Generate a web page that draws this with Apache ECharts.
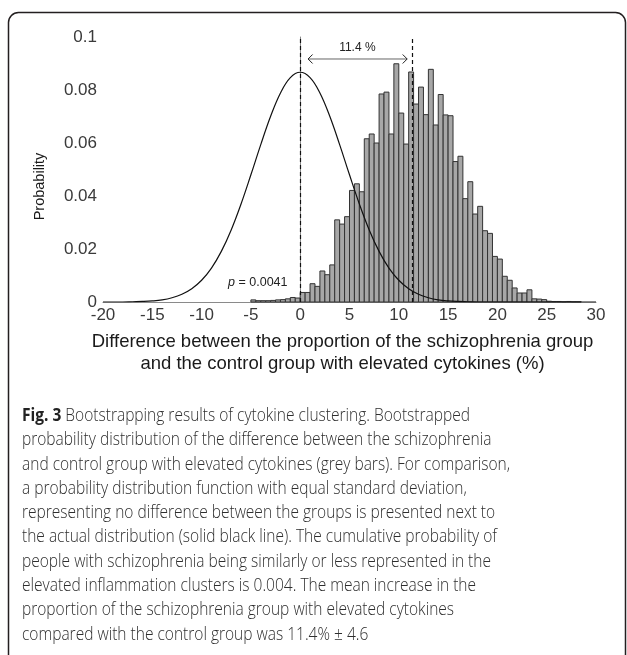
<!DOCTYPE html>
<html><head><meta charset="utf-8">
<script src="https://cdn.jsdelivr.net/npm/echarts@6/dist/echarts.min.js"></script>
<style>html,body{margin:0;padding:0;background:#fff}#c{width:627px;height:655px}</style>
</head><body><div id="c"></div>
<script>
// Histogram bins (lower edges) and bootstrapped probabilities
const binLower = [-5,-4.5,-4,-3.5,-3,-2.5,-2,-1.5,-1,-0.5,
  0,0.5,1,1.5,2,2.5,3,3.5,4,4.5,5,5.5,6,6.5,7,7.5,8,8.5,9,9.5,
  10,10.5,11,11.5,12,12.5,13,13.5,14,14.5,15,15.5,16,16.5,17,17.5,18,18.5,19,19.5,
  20,20.5,21,21.5,22,22.5,23,23.5,24,24.5,25,25.5,26,26.5,27,27.5,28];
const binProb = [0.0008,0.0005,0.0005,0.0005,0.0006,0.0008,0.0009,0.0012,0.0017,0.0015,
  0.0036,0.0036,0.0069,0.0059,0.0117,0.0103,0.0140,0.0310,0.0294,0.0322,0.0421,0.0446,0.0416,0.0616,0.0634,0.0600,0.0785,0.0792,0.0634,0.0899,
  0.0713,0.0596,0.0868,0.0747,0.0811,0.0707,0.0878,0.0668,0.0783,0.0706,0.0703,0.0530,0.0550,0.0390,0.0454,0.0332,0.0361,0.0269,0.0259,0.0172,
  0.0162,0.0097,0.0082,0.0053,0.0034,0.0034,0.0046,0.0012,0.0011,0.0009,0.0003,0.0002,0.0002,0.0001,0.0002,0.0001,0.0001];
const BIN_WIDTH = 0.5;

// Reference distribution (solid black line), read at integer x
const curveX = [-20,-19,-18,-17,-16,-15,-14,-13,-12,-11,-10,-9,-8,-7,-6,-5,-4,-3,-2,-1,
  0,1,2,3,4,5,6,7,8,9,10,11,12,13,14,15,16,17,18,19,20,21,22,23,24,25,26,27,28,29,30];
const curveY = [0,0,0,0.0001,0.0002,0.0004,0.0008,0.0016,0.0029,0.0050,0.0082,0.0128,0.0191,0.0272,0.0370,0.0480,0.0594,0.0701,0.0789,0.0847,
  0.0867,0.0847,0.0789,0.0701,0.0594,0.0480,0.0370,0.0272,0.0191,0.0128,0.0082,0.0050,0.0029,0.0016,0.0008,0.0004,0.0002,0.0001,0,0,0,0,0,0,0,0,0,0,0,0,0];

// Annotations
const dashedX = [0, 11.4];
const arrowFrom = 0.8, arrowTo = 10.85, arrowY = 0.0917;
const arrowLabel = '11.4 %';
const arrowLabelPos = [5.8, 0.0958];
const pLabelText = '{i|p} = 0.0041';
const pLabelPos = [-4.3, 0.0075];

const xAxisName = 'Difference between the proportion of the schizophrenia group\nand the control group with elevated cytokines (%)';
const yAxisName = 'Probability';

const captionLines = [
  '{b|Fig. 3} Bootstrapping results of cytokine clustering. Bootstrapped',
  'probability distribution of the difference between the schizophrenia',
  'and control group with elevated cytokines (grey bars). For comparison,',
  'a probability distribution function with equal standard deviation,',
  'representing no difference between the groups is presented next to',
  'the actual distribution (solid black line). The cumulative probability of',
  'people with schizophrenia being similarly or less represented in the',
  'elevated inflammation clusters is 0.004. The mean increase in the',
  'proportion of the schizophrenia group with elevated cytokines',
  'compared with the control group was 11.4% \u00b1 4.6'
];

const FONT = '"Liberation Sans", Arial, Helvetica, sans-serif';
const CAP_FONT_FAMILY = '"Open Sans", "Noto Sans", sans-serif';
const CAP_SIZE = 17.5;
const CAP_WEIGHT = 300;

// measure to fit caption width like the reference
const cv = document.createElement('canvas').getContext('2d');
cv.font = CAP_WEIGHT + ' ' + CAP_SIZE + 'px ' + CAP_FONT_FAMILY;
const refW = cv.measureText(captionLines[2]).width;
const capScale = 488 / refW;

const chart = echarts.init(document.getElementById('c'), null, {renderer: 'canvas'});

const graphics = [{
  type: 'rect', z: 100,
  shape: {x: 8.5, y: 12.5, width: 617, height: 660, r: 10},
  style: {fill: 'none', stroke: '#231f20', lineWidth: 1.5}
}];
captionLines.forEach((t, i) => {
  graphics.push({
    type: 'text', x: 22, y: 416 + i * 24.3, scaleX: capScale, z: 100,
    style: {
      text: t, fontSize: CAP_SIZE, fontFamily: CAP_FONT_FAMILY, fontWeight: CAP_WEIGHT, fill: '#2e2e2e',
      verticalAlign: 'middle', align: 'left',
      rich: {b: {fontWeight: 'bold', fontSize: CAP_SIZE, fontFamily: CAP_FONT_FAMILY, fill: '#222'}}
    }
  });
});

const option = {
  animation: false,
  backgroundColor: '#fff',
  grid: {left: 103, right: 31, top: 37, bottom: 353, containLabel: false},
  xAxis: {
    type: 'value', min: -20, max: 30, interval: 5,
    name: xAxisName, nameLocation: 'middle', nameGap: 29,
    nameTextStyle: {fontSize: 18.5, lineHeight: 22, color: '#1a1a1a', fontFamily: FONT, padding: [0, 14, 0, 0]},
    axisLine: {show: true, lineStyle: {color: '#8a8a8a', width: 1}},
    axisTick: {show: false},
    splitLine: {show: false},
    axisLabel: {fontSize: 17, color: '#3a3a3a', fontFamily: FONT, margin: 5}
  },
  yAxis: {
    type: 'value', min: 0, max: 0.1, interval: 0.02,
    name: yAxisName, nameLocation: 'middle', nameGap: 56,
    nameTextStyle: {fontSize: 14.5, color: '#1a1a1a', fontFamily: FONT, padding: [0, 34, 0, 0]},
    axisLine: {show: true, lineStyle: {color: '#8a8a8a', width: 1}},
    axisTick: {show: false},
    splitLine: {show: false},
    axisLabel: {fontSize: 17, color: '#3a3a3a', fontFamily: FONT, margin: 6}
  },
  graphic: graphics,
  series: [
    {
      type: 'custom', name: 'bootstrap', z: 2,
      data: binLower.map((x, i) => [x, x + BIN_WIDTH, binProb[i]]),
      renderItem: function (params, api) {
        const a = api.coord([api.value(0), api.value(2)]);
        const b = api.coord([api.value(1), 0]);
        return {
          type: 'rect',
          shape: {x: a[0], y: a[1], width: b[0] - a[0], height: b[1] - a[1]},
          style: {fill: '#a7a7a7', stroke: '#333', lineWidth: 1}
        };
      }
    },
    {
      type: 'line', name: 'reference', z: 4,
      data: curveX.map((x, i) => [x, curveY[i]]),
      smooth: 0.4, showSymbol: false, symbol: 'none',
      lineStyle: {color: '#111', width: 1.2},
      markLine: {
        silent: true, symbol: 'none', label: {show: false},
        lineStyle: {color: '#111', type: [4, 3], width: 1.2},
        data: dashedX.map(x => [{coord: [x, 0]}, {coord: [x, 0.1]}])
      }
    },
    {
      type: 'custom', name: 'annotations', z: 5,
      data: [[0]],
      renderItem: function (params, api) {
        const p0 = api.coord([arrowFrom, arrowY]);
        const p1 = api.coord([arrowTo, arrowY]);
        const lp = api.coord(arrowLabelPos);
        const pp = api.coord(pLabelPos);
        const h = 4.5;
        return {
          type: 'group',
          children: [
            {type: 'line', shape: {x1: p0[0], y1: p0[1], x2: p1[0], y2: p1[1]}, style: {stroke: '#666', lineWidth: 1}},
            {type: 'polyline', shape: {points: [[p0[0] + h, p0[1] - h], [p0[0], p0[1]], [p0[0] + h, p0[1] + h]]}, style: {stroke: '#222', lineWidth: 1, fill: 'none'}},
            {type: 'polyline', shape: {points: [[p1[0] - h, p1[1] - h], [p1[0], p1[1]], [p1[0] - h, p1[1] + h]]}, style: {stroke: '#222', lineWidth: 1, fill: 'none'}},
            {type: 'text', x: lp[0], y: lp[1], style: {text: arrowLabel, fontSize: 12, fontFamily: FONT, fill: '#222', align: 'center', verticalAlign: 'middle'}},
            {type: 'text', x: pp[0], y: pp[1], style: {text: pLabelText, fontSize: 12.5, fontFamily: FONT, fill: '#222', align: 'center', verticalAlign: 'middle',
              rich: {i: {fontStyle: 'italic', fontSize: 12.5, fontFamily: FONT, fill: '#222'}}}}
          ]
        };
      }
    }
  ]
};
chart.setOption(option);
</script>
</body></html>
